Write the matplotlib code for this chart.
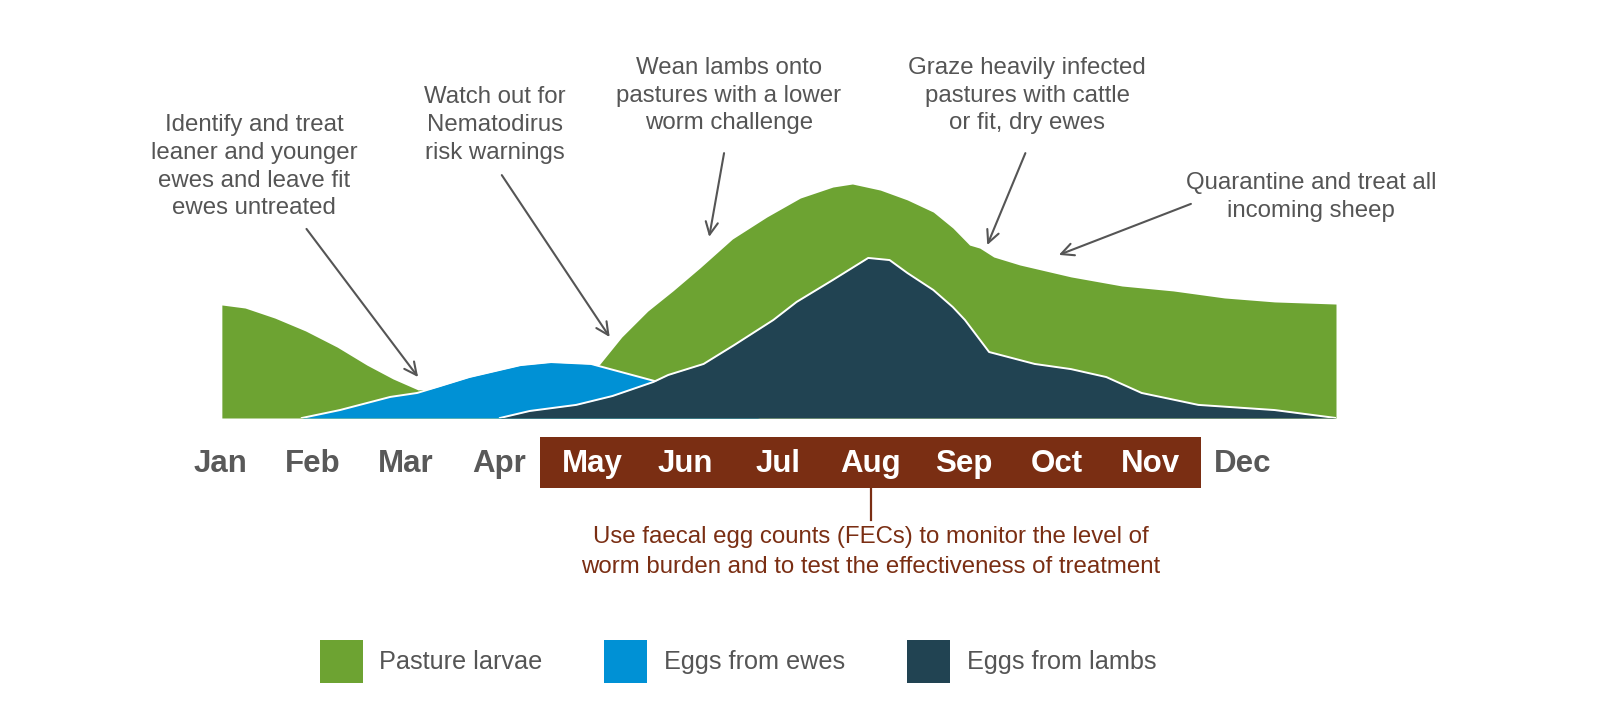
import matplotlib.pyplot as plt
from matplotlib.patches import Patch, Rectangle

plt.rcParams['font.family'] = ['Liberation Sans', 'DejaVu Sans']

# months on the x axis (0 = Jan ... 11 = Dec)
months = ['Jan', 'Feb', 'Mar', 'Apr', 'May', 'Jun', 'Jul', 'Aug', 'Sep', 'Oct', 'Nov', 'Dec']
fec_months = ('May', 'Nov')   # period covered by the brown band

# relative level (peak of pasture larvae = 100)
larvae_x = [0.02, 0.27, 0.59, 0.92, 1.26, 1.58, 1.86, 2.13, 2.6, 3.2, 3.7, 4.08, 4.32,
            4.60, 4.87, 5.16, 5.51, 5.88, 6.24, 6.59, 6.80, 7.10, 7.39, 7.67, 7.88,
            8.06, 8.17, 8.32, 8.60, 9.15, 9.70, 10.25, 10.80, 11.34, 12.0]
larvae_y = [48.3, 47.0, 42.7, 37.2, 30.3, 22.6, 16.7, 12.0, 13.0, 16.0, 19.5, 22.8, 34.6,
            45.7, 54.3, 64.1, 76.5, 85.9, 94.0, 98.7, 100.0, 97.4, 93.2, 88.0, 81.2,
            73.9, 72.6, 68.8, 65.4, 60.3, 56.4, 54.3, 51.3, 49.6, 48.7]

ewes_x = [0.88, 1.29, 1.83, 2.12, 2.37, 2.68, 3.23, 3.56, 3.99, 4.43, 4.71, 5.0, 5.4, 5.8]
ewes_y = [0.0, 3.4, 9.0, 10.7, 13.7, 17.5, 22.6, 23.9, 23.1, 18.4, 15.4, 10.0, 4.0, 0.0]

lambs_x = [3.01, 3.33, 3.83, 4.22, 4.66, 4.82, 5.20, 5.53, 5.95, 6.20, 6.59, 6.97, 7.20,
           7.39, 7.67, 7.88, 8.01, 8.27, 8.76, 9.15, 9.53, 9.91, 10.52, 11.34, 12.0]
lambs_y = [0.0, 3.0, 5.6, 9.4, 15.4, 18.4, 23.1, 31.2, 41.9, 49.6, 59.0, 68.4, 67.5,
           62.0, 54.7, 47.4, 41.9, 28.2, 23.1, 20.9, 17.5, 10.7, 5.6, 3.4, 0.0]

# annotation texts: (text, x, y top) and arrows (tail, tip)
notes = [
    ('Identify and treat\nleaner and younger\newes and leave fit\newes untreated', 0.37, 129.9),
    ('Watch out for\nNematodirus\nrisk warnings', 2.96, 141.9),
    ('Wean lambs onto\npastures with a lower\nworm challenge', 5.47, 154.3),
    ('Graze heavily infected\npastures with cattle\nor fit, dry ewes', 8.68, 154.3),
    ('Quarantine and treat all\nincoming sheep', 11.73, 105.1),
]
arrows = [
    ((0.93, 80.8), (2.13, 17.5)),
    ((3.03, 103.8), (4.19, 34.6)),
    ((5.42, 113.2), (5.26, 77.4)),
    ((8.66, 113.2), (8.25, 73.9)),
    ((10.44, 91.5), (9.02, 69.7)),
]
fec_text = ('Use faecal egg counts (FECs) to monitor the level of\n'
            'worm burden and to test the effectiveness of treatment')

green = '#6DA332'
blue = '#0091D5'
navy = '#214352'
brown = '#7A2E13'
grey = '#555555'

fig = plt.figure(figsize=(15.99, 7.28), dpi=100)
ax = fig.add_axes([220 / 1599, 310 / 728, 1116 / 1599, 234 / 728])
ax.set_xlim(0, 12)
ax.set_ylim(0, 100)
ax.axis('off')

# layered areas: larvae behind, ewes, then lambs on top
ax.fill_between(larvae_x, larvae_y, color=green, lw=0, zorder=1)
ax.fill_between(ewes_x, ewes_y, color=blue, lw=0, zorder=2)
ax.plot(ewes_x, ewes_y, color='white', lw=1.4, zorder=2.1)
ax.fill_between(lambs_x, lambs_y, color=navy, lw=0, zorder=3)
ax.plot(lambs_x, lambs_y, color='white', lw=1.4, zorder=3.1)

# month band
i0, i1 = months.index(fec_months[0]), months.index(fec_months[1])
ax.add_patch(Rectangle((i0 - 0.56, -29.9), (i1 - i0) + 1.11, 21.8,
                       facecolor=brown, edgecolor='none', clip_on=False, zorder=1))
for i, m in enumerate(months):
    inside = i0 <= i <= i1
    ax.text(i, -23.1, m, ha='center', va='baseline', fontsize=22.5, fontweight='bold',
            color='white' if inside else '#595959', clip_on=False, zorder=2)

aug = months.index('Aug')
ax.plot([aug, aug], [-29.9, -43.6], color=brown, lw=1.6, clip_on=False)
ax.text(aug, -46.2, fec_text, ha='center', va='top', fontsize=17.3, color=brown,
        linespacing=1.47, clip_on=False)

for text, x, y in notes:
    ax.text(x, y, text, ha='center', va='top', fontsize=17.3, color=grey,
            linespacing=1.34, clip_on=False)
for tail, tip in arrows:
    ax.annotate('', xy=tip, xytext=tail, annotation_clip=False,
                arrowprops=dict(arrowstyle='->,head_length=0.45,head_width=0.22',
                                color=grey, lw=1.5, mutation_scale=20,
                                shrinkA=0, shrinkB=0))

handles = [Patch(facecolor=green, edgecolor='none', label='Pasture larvae'),
           Patch(facecolor=blue, edgecolor='none', label='Eggs from ewes'),
           Patch(facecolor=navy, edgecolor='none', label='Eggs from lambs')]
fig.legend(handles=handles, loc='center', bbox_to_anchor=(738 / 1599, 66.5 / 728), ncol=3,
           frameon=False, fontsize=18.2, handlelength=1.7, handleheight=2.22,
           handletextpad=0.66, columnspacing=2.45, labelcolor=grey)

fig.savefig('out.png', dpi=100)
